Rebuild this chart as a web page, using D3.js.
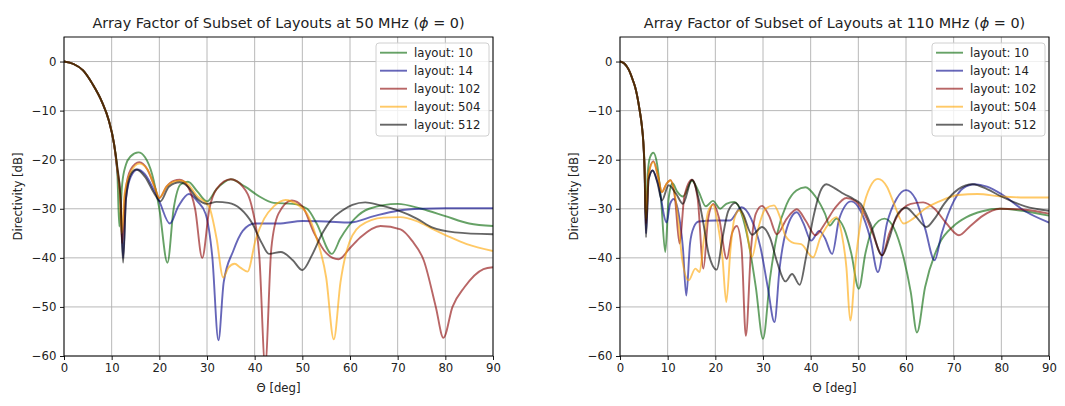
<!DOCTYPE html>
<html>
<head>
<meta charset="utf-8">
<script src="https://cdn.jsdelivr.net/npm/d3@7"></script>
<style>
  html, body { margin: 0; padding: 0; background: #fff; }
  svg { display: block; font-family: "DejaVu Sans", sans-serif; }
</style>
</head>
<body>
<svg id="fig" width="1065" height="406"></svg>
<script>
// Array factor cuts (phi = 0) of five array layouts at two frequencies.
// Each series is a list of [theta in degrees, directivity in dB].

const layoutNames = ["layout: 10", "layout: 14", "layout: 102", "layout: 504", "layout: 512"];
const layoutColors = ["darkgreen", "darkblue", "darkred", "orange", "black"];
const thetaTicks = [0, 10, 20, 30, 40, 50, 60, 70, 80, 90];
const dbTicks = [0, -10, -20, -30, -40, -50, -60];

// ---- 50 MHz ----
const mainLobe50 = [[0, 0], [2, -0.5], [4, -1.8], [6, -4.6], [8, -8.3], [9.4, -12], [10.5, -16.8]];

const layout10At50 = [[11.2, -23], [11.6, -33.6], [12.2, -25], [13, -21], [14, -19.3], [15.6, -18.5], [17, -19.5],
  [18.5, -23], [20, -30], [21.7, -41], [23, -30], [24.5, -25], [26, -24.5], [28, -26.5], [30, -28.5], [32, -26],
  [35, -24], [38, -25.5], [41, -27.5], [44, -28.8], [48, -29], [51, -30], [53, -33], [56.2, -39.2], [58, -36],
  [61, -32], [64, -30], [70, -29], [75, -30], [80, -31.5], [85, -33], [90, -33.5]];

const layout14At50 = [[11.2, -22.5], [11.9, -29], [12.4, -40], [13, -28], [14, -23.5], [15.4, -22], [17, -23],
  [19, -26.5], [20, -28.5], [22.2, -33], [24, -29.5], [26.2, -27], [28, -28.5], [29.7, -31], [31.1, -39.7],
  [32.4, -56.8], [33.5, -45], [35.5, -38.6], [37.5, -34.5], [40, -33], [45, -33], [50, -32.5], [55, -32.6],
  [60, -32.8], [65, -31.5], [70, -30.4], [75, -30], [80, -29.9], [90, -29.9]];

const layout102At50 = [[11.2, -22], [11.8, -27], [12.2, -37], [12.8, -27], [14, -22], [15.8, -20.5], [17.5, -22],
  [19, -25.5], [20, -27.8], [21.5, -25.5], [23, -24.3], [24.3, -24.1], [26, -25.5], [27.5, -30], [29, -40],
  [30.5, -30], [32, -26], [35, -24], [37.5, -25.5], [39.5, -30], [41, -40], [42.2, -62], [43.5, -38], [45, -31],
  [47.8, -28.3], [50, -29.5], [52.5, -35], [55, -39], [57.6, -40.3], [60, -38], [62.2, -35.8], [66.4, -33.5],
  [70.6, -34.2], [73, -36.5], [75.5, -40.6], [78, -50], [79.6, -56.3], [81.5, -50], [84, -46], [88, -42.3],
  [90, -41.9]];

const layout504At50 = [[11.2, -22], [11.7, -27], [12.1, -35], [12.7, -27], [14, -22.5], [15.8, -20.8], [17.5, -22],
  [19, -25.5], [20, -27.8], [21.5, -25.5], [23, -24.5], [24.5, -24.3], [26, -25], [28, -27.5], [30.4, -29.5],
  [32, -36], [33.4, -44], [34.5, -42], [35.8, -41.2], [37, -42], [38.5, -42.8], [40.2, -36.3], [42, -32],
  [44, -29.5], [46.5, -28.2], [49, -29.2], [51, -31], [53, -36], [55, -44], [56.6, -56.6], [58, -45],
  [59.3, -38.6], [62.1, -33.5], [67, -31.8], [70.5, -31.7], [74, -32.5], [77.5, -34.2], [81, -35.8],
  [84.5, -37.2], [90, -38.6]];

const layout512At50 = [[11.2, -21.5], [11.8, -27], [12.4, -41], [13, -28], [14, -23], [15.2, -22], [17, -23.5],
  [19, -27], [20.2, -28.5], [22, -25.5], [24.3, -24.6], [26, -25.5], [28, -28], [30, -29], [32, -28.6],
  [34.5, -28.8], [37, -30], [39.5, -33], [41.5, -37], [43, -39.2], [45.5, -38.8], [48, -40.5], [50, -42.5],
  [52, -39.5], [54.2, -35], [56, -32.3], [58.3, -30.4], [60.5, -29.2], [63.2, -28.7], [66, -29.2],
  [70.2, -30.4], [74, -32], [77.2, -33.8], [82, -34.8], [90, -35.2]];

// ---- 110 MHz ----
const mainLobe110 = [[0, 0], [0.9, -0.4], [1.8, -1.6], [2.7, -3.8], [3.2, -5.3], [3.6, -7], [4.1, -9.8],
  [4.55, -12.8], [4.9, -16.5]];

const layout10At110 = [[5.15, -21], [5.4, -32], [5.8, -23], [6.3, -19.5], [7, -18.6], [7.8, -21], [8.6, -28],
  [9.5, -38.8], [10.2, -28], [11, -24.8], [12, -26.5], [13.2, -27.5], [15.1, -24.3], [16.5, -26.5], [18, -29.5],
  [19.5, -28.4], [21, -30], [22.3, -29], [24, -28.6], [25.5, -31], [27, -37], [28.5, -46], [30, -56.5],
  [31.5, -44], [33, -35], [35, -29], [37, -26.3], [38.9, -25.6], [41, -27.5], [43, -31], [44, -33.4],
  [45.4, -32], [47, -34], [48.5, -39], [50.1, -46.3], [51.5, -39], [53, -34], [55.5, -32], [57.5, -34],
  [59.5, -40], [61, -47], [62.3, -55.2], [64, -46], [67, -37.1], [70, -33.5], [72.7, -31.7], [76, -30.5],
  [79.7, -30], [85, -30.5], [90, -31.4]];

const layout14At110 = [[5.15, -22], [5.45, -35], [6, -24], [6.85, -22.2], [8, -25], [9.8, -32.8], [10.5, -29],
  [11.3, -28], [12.3, -31], [13.2, -38], [13.9, -47.7], [14.7, -37], [15.5, -33.7], [16.5, -32.6], [20, -32.4],
  [23, -32.4], [25.5, -29.7], [27.5, -32], [29.5, -38], [31, -46], [32.4, -53.1], [33.5, -42], [35, -34],
  [37.1, -30.7], [38.5, -33], [40.1, -36.5], [41.8, -34.5], [43, -36], [44.5, -39.2], [46, -32], [48.5, -28.5],
  [50.5, -30.5], [52.5, -36], [54.1, -42.9], [56, -33], [58, -28], [60, -26.2], [62, -28], [64, -34],
  [66, -40.5], [67.5, -35], [70, -28.5], [72, -25.8], [74.4, -25], [77, -25.5], [80, -27], [85, -30.5],
  [90, -32.8]];

const layout102At110 = [[5.15, -21.5], [5.45, -33], [6, -23], [7, -20.3], [8, -23.5], [8.8, -26.6], [9.7, -25],
  [10.6, -24.2], [11.5, -27.5], [12.5, -37.1], [13.5, -27.5], [15.1, -24.1], [16.3, -28], [17.5, -42.2],
  [18.5, -32], [19.6, -29], [20.8, -32], [22.4, -40.2], [23.5, -35], [24.5, -33.5], [25.5, -38], [26.4, -55.9],
  [27.5, -38], [28.5, -31], [29.8, -29.4], [31.3, -31.5], [32.9, -35.2], [35, -32], [37.1, -30.1], [39, -32.5],
  [41, -35.4], [43, -33], [45, -30], [47.5, -27.8], [49.5, -28.5], [51.5, -31.5], [53, -35], [55, -39.5],
  [56.5, -35], [58.5, -31], [61, -29], [63.6, -28.7], [66, -30], [68.5, -33], [71.1, -35.4], [73.5, -33.5],
  [76, -31.5], [79.7, -30], [85, -30.2], [90, -31]];

const layout504At110 = [[5.15, -21.5], [5.45, -32], [6, -23], [7, -20.5], [8, -23.5], [8.8, -26.6], [9.7, -25],
  [10.6, -24.2], [11.5, -27], [12.3, -33], [13, -40], [14.4, -44.6], [15.8, -42.2], [16.7, -42.9], [17.5, -37],
  [18.5, -30.5], [19.5, -29.2], [20.5, -33], [21.5, -40], [22.3, -49], [23.2, -38], [24, -32], [25, -30.3],
  [26.2, -32.5], [27.7, -39.8], [29, -34], [30.5, -30], [32.3, -29.3], [33.5, -31.5], [34.7, -35.5],
  [36.5, -37], [38, -37.2], [40.5, -39.9], [42, -36], [43.3, -33.7], [45.4, -31.7], [46.5, -35], [47.5, -42],
  [48.3, -52.8], [49.5, -40], [51, -30], [52.5, -25.5], [54.1, -23.9], [56, -25.5], [57.5, -29], [59.5, -33],
  [61.5, -32], [64, -30], [67, -28.5], [71, -27.2], [75, -27], [80, -27.5], [85, -27.7], [90, -27.7]];

const layout512At110 = [[5.15, -22], [5.45, -35.8], [6, -24], [6.85, -22.2], [7.8, -24.5], [8.8, -28.3],
  [10.2, -25.2], [11.8, -27], [13.2, -29], [15.1, -24.1], [16.5, -28], [17.5, -33], [18.6, -39.2], [20.3, -42.4],
  [21.5, -36], [22.7, -30.5], [24.2, -28.8], [25.8, -31], [27.7, -35.3], [29.8, -33.7], [31.5, -36], [33, -41],
  [34.7, -44.8], [36.1, -43.3], [37.7, -45.5], [39, -40], [40.5, -32], [42, -26.5], [43.3, -25], [45, -25.8],
  [47, -27], [49, -28], [50.5, -29], [52.5, -33], [55, -39.5], [56.5, -36], [58, -31.5], [60, -29.8],
  [62, -31.5], [64.3, -33.7], [66, -32], [68, -29], [71, -26], [74, -25], [77, -26], [80, -27.5], [85, -29.5],
  [90, -30.4]];

const panels = [
  {
    freq: "50",
    left: 64, right: 493,
    series: [layout10At50, layout14At50, layout102At50, layout504At50, layout512At50].map(s => mainLobe50.concat(s))
  },
  {
    freq: "110",
    left: 620, right: 1049,
    series: [layout10At110, layout14At110, layout102At110, layout504At110, layout512At110].map(s => mainLobe110.concat(s))
  }
];

const plotTop = 37, plotBottom = 356;
const svg = d3.select("#fig");
const baseFont = 11.7;

panels.forEach((p, pi) => {
  const x = d3.scaleLinear().domain([0, 90]).range([p.left, p.right]);
  const y = d3.scaleLinear().domain([-60, 5]).range([plotBottom, plotTop]);
  const g = svg.append("g");

  // grid
  g.append("g").selectAll("line").data(thetaTicks).join("line")
    .attr("x1", d => x(d)).attr("x2", d => x(d)).attr("y1", plotTop).attr("y2", plotBottom)
    .attr("stroke", "#b0b0b0").attr("stroke-width", 0.9);
  g.append("g").selectAll("line").data(dbTicks).join("line")
    .attr("x1", p.left).attr("x2", p.right).attr("y1", d => y(d)).attr("y2", d => y(d))
    .attr("stroke", "#b0b0b0").attr("stroke-width", 0.9);

  // curves
  const clipId = "clip" + pi;
  svg.append("clipPath").attr("id", clipId).append("rect")
    .attr("x", p.left).attr("y", plotTop).attr("width", p.right - p.left).attr("height", plotBottom - plotTop);
  const line = d3.line().x(d => x(d[0])).y(d => y(d[1])).curve(d3.curveMonotoneX);
  g.append("g").attr("clip-path", `url(#${clipId})`)
    .selectAll("path").data(p.series).join("path")
    .attr("d", line)
    .attr("fill", "none")
    .attr("stroke", (d, i) => layoutColors[i])
    .attr("stroke-opacity", 0.6)
    .attr("stroke-width", 1.9)
    .attr("stroke-linejoin", "round");

  // axes
  const xAxis = d3.axisBottom(x).tickValues(thetaTicks).tickSizeInner(4).tickSizeOuter(0).tickPadding(3.5);
  const yAxis = d3.axisLeft(y).tickValues(dbTicks).tickSizeInner(4).tickSizeOuter(0).tickPadding(3.5);
  const gx = g.append("g").attr("transform", `translate(0,${plotBottom})`).call(xAxis);
  const gy = g.append("g").attr("transform", `translate(${p.left},0)`).call(yAxis);
  [gx, gy].forEach(a => {
    a.select(".domain").remove();
    a.selectAll(".tick line").attr("stroke", "#000").attr("stroke-width", 0.9);
    a.selectAll(".tick text").attr("fill", "#222").style("font-size", baseFont + "px")
      .style("font-family", "'DejaVu Sans', sans-serif");
  });

  // frame
  g.append("rect").attr("x", p.left).attr("y", plotTop)
    .attr("width", p.right - p.left).attr("height", plotBottom - plotTop)
    .attr("fill", "none").attr("stroke", "#000").attr("stroke-width", 0.95);

  // labels
  const cx = (p.left + p.right) / 2;
  const title = g.append("text").attr("x", cx).attr("y", 28).attr("text-anchor", "middle")
    .style("font-size", "14.4px").attr("fill", "#222");
  title.append("tspan").text(`Array Factor of Subset of Layouts at ${p.freq} MHz (`);
  title.append("tspan").style("font-style", "italic").text("ϕ");
  title.append("tspan").text(" = 0)");

  g.append("text").attr("x", cx).attr("y", 392).attr("text-anchor", "middle")
    .style("font-size", baseFont + "px").attr("fill", "#222").text("Θ [deg]");
  g.append("text").attr("transform", `translate(${p.left - 42},${(plotTop + plotBottom) / 2}) rotate(-90)`)
    .attr("text-anchor", "middle").style("font-size", baseFont + "px").attr("fill", "#222")
    .text("Directivity [dB]");

  // legend
  const lx = p.right - 117, ly = 43, rowH = 18;
  const leg = g.append("g");
  leg.append("rect").attr("x", lx).attr("y", ly).attr("width", 113).attr("height", 93)
    .attr("rx", 3).attr("fill", "#fff").attr("fill-opacity", 0.8)
    .attr("stroke", "#d0d0d0").attr("stroke-width", 1);
  layoutNames.forEach((name, i) => {
    const ry = ly + 9.7 + i * rowH;
    leg.append("line").attr("x1", lx + 4).attr("x2", lx + 31).attr("y1", ry).attr("y2", ry)
      .attr("stroke", layoutColors[i]).attr("stroke-opacity", 0.6).attr("stroke-width", 1.9);
    leg.append("text").attr("x", lx + 38).attr("y", ry).attr("dy", "0.36em")
      .style("font-size", baseFont + "px").attr("fill", "#222").text(name);
  });
});
</script>
</body>
</html>
